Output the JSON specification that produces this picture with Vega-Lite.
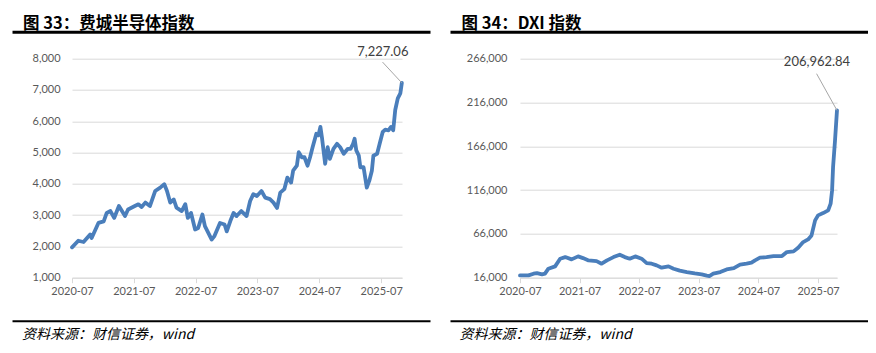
{
  "$schema": "https://vega.github.io/schema/vega-lite/v6.json",
  "background": "white",
  "padding": {"left": 12, "top": 15.7, "right": 0, "bottom": 0},
  "config": {"view": {"stroke": null}, "font": "Lato"},
  "datasets": {
    "sox": [
      {"date": "2020/07/01", "value": 1970}, {"date": "2020/08/07", "value": 2180}, {"date": "2020/09/07", "value": 2140},
      {"date": "2020/10/16", "value": 2380}, {"date": "2020/10/25", "value": 2270}, {"date": "2020/12/04", "value": 2750},
      {"date": "2021/01/04", "value": 2800}, {"date": "2021/01/22", "value": 3070}, {"date": "2021/02/13", "value": 3130},
      {"date": "2021/03/07", "value": 2910}, {"date": "2021/04/04", "value": 3290}, {"date": "2021/05/10", "value": 2970},
      {"date": "2021/05/28", "value": 3180}, {"date": "2021/07/07", "value": 3290}, {"date": "2021/07/28", "value": 3345},
      {"date": "2021/08/16", "value": 3260}, {"date": "2021/09/07", "value": 3400}, {"date": "2021/10/04", "value": 3290},
      {"date": "2021/11/04", "value": 3770}, {"date": "2021/12/04", "value": 3880}, {"date": "2021/12/28", "value": 3990},
      {"date": "2022/01/13", "value": 3770}, {"date": "2022/02/01", "value": 3400}, {"date": "2022/02/22", "value": 3500},
      {"date": "2022/03/10", "value": 3240}, {"date": "2022/04/10", "value": 3130}, {"date": "2022/05/01", "value": 3350},
      {"date": "2022/05/16", "value": 2910}, {"date": "2022/06/04", "value": 3070}, {"date": "2022/06/28", "value": 2540},
      {"date": "2022/07/16", "value": 2590}, {"date": "2022/08/10", "value": 3020}, {"date": "2022/08/25", "value": 2650},
      {"date": "2022/10/04", "value": 2220}, {"date": "2022/10/19", "value": 2320}, {"date": "2022/11/22", "value": 2750},
      {"date": "2022/12/19", "value": 2700}, {"date": "2023/01/01", "value": 2480}, {"date": "2023/01/22", "value": 2810},
      {"date": "2023/02/10", "value": 3070}, {"date": "2023/02/28", "value": 2970}, {"date": "2023/03/28", "value": 3130},
      {"date": "2023/04/28", "value": 2970}, {"date": "2023/05/19", "value": 3450}, {"date": "2023/06/07", "value": 3670},
      {"date": "2023/06/28", "value": 3610}, {"date": "2023/07/25", "value": 3770}, {"date": "2023/08/16", "value": 3560},
      {"date": "2023/09/13", "value": 3510}, {"date": "2023/10/04", "value": 3400}, {"date": "2023/10/25", "value": 3230},
      {"date": "2023/11/13", "value": 3720}, {"date": "2023/12/07", "value": 3830}, {"date": "2023/12/25", "value": 4200},
      {"date": "2024/01/16", "value": 4040}, {"date": "2024/01/28", "value": 4420}, {"date": "2024/02/19", "value": 4580},
      {"date": "2024/03/01", "value": 5010}, {"date": "2024/03/19", "value": 4850}, {"date": "2024/04/04", "value": 4850},
      {"date": "2024/04/22", "value": 4580}, {"date": "2024/05/07", "value": 4850}, {"date": "2024/05/22", "value": 5170},
      {"date": "2024/06/13", "value": 5600}, {"date": "2024/06/25", "value": 5550}, {"date": "2024/07/07", "value": 5820},
      {"date": "2024/07/16", "value": 5490}, {"date": "2024/08/04", "value": 4640}, {"date": "2024/08/19", "value": 5170},
      {"date": "2024/09/01", "value": 4800}, {"date": "2024/09/22", "value": 5120}, {"date": "2024/10/13", "value": 5280},
      {"date": "2024/11/01", "value": 5170}, {"date": "2024/11/22", "value": 4960}, {"date": "2024/12/16", "value": 5120},
      {"date": "2025/01/01", "value": 5120}, {"date": "2025/01/16", "value": 5280}, {"date": "2025/01/25", "value": 5440},
      {"date": "2025/02/04", "value": 5070}, {"date": "2025/02/19", "value": 4900}, {"date": "2025/02/28", "value": 4530},
      {"date": "2025/03/19", "value": 4530}, {"date": "2025/04/07", "value": 3880}, {"date": "2025/04/22", "value": 4100},
      {"date": "2025/05/07", "value": 4420}, {"date": "2025/05/16", "value": 4900}, {"date": "2025/06/07", "value": 4960},
      {"date": "2025/06/22", "value": 5280}, {"date": "2025/07/10", "value": 5660}, {"date": "2025/07/25", "value": 5730},
      {"date": "2025/08/13", "value": 5710}, {"date": "2025/08/28", "value": 5820}, {"date": "2025/09/10", "value": 5710},
      {"date": "2025/09/22", "value": 6360}, {"date": "2025/10/07", "value": 6730}, {"date": "2025/10/22", "value": 6890},
      {"date": "2025/10/31", "value": 7227.06}
    ],
    "dxi": [
      {"date": "2020/07/01", "value": 18600}, {"date": "2020/08/22", "value": 18600}, {"date": "2020/09/22", "value": 20570},
      {"date": "2020/10/13", "value": 21250}, {"date": "2020/11/13", "value": 19770}, {"date": "2020/12/01", "value": 20570},
      {"date": "2020/12/22", "value": 26270}, {"date": "2021/02/01", "value": 28900}, {"date": "2021/03/04", "value": 37690},
      {"date": "2021/04/04", "value": 39520}, {"date": "2021/05/13", "value": 36900}, {"date": "2021/06/22", "value": 40320},
      {"date": "2021/07/22", "value": 38380}, {"date": "2021/08/25", "value": 35750}, {"date": "2021/10/13", "value": 34950},
      {"date": "2021/11/13", "value": 31980}, {"date": "2021/12/16", "value": 35750}, {"date": "2022/01/25", "value": 39520},
      {"date": "2022/03/04", "value": 42260}, {"date": "2022/04/04", "value": 39520}, {"date": "2022/05/04", "value": 37690},
      {"date": "2022/06/07", "value": 40320}, {"date": "2022/07/16", "value": 37690}, {"date": "2022/08/16", "value": 32670},
      {"date": "2022/09/16", "value": 31980}, {"date": "2022/10/16", "value": 30040}, {"date": "2022/11/16", "value": 27420},
      {"date": "2022/12/28", "value": 28900}, {"date": "2023/01/28", "value": 26270}, {"date": "2023/03/07", "value": 24000},
      {"date": "2023/04/19", "value": 22390}, {"date": "2023/06/07", "value": 20800}, {"date": "2023/07/19", "value": 19800},
      {"date": "2023/08/19", "value": 18400}, {"date": "2023/09/04", "value": 17800}, {"date": "2023/09/28", "value": 20570},
      {"date": "2023/11/10", "value": 22390}, {"date": "2023/12/19", "value": 25480}, {"date": "2024/02/01", "value": 26960},
      {"date": "2024/03/10", "value": 30840}, {"date": "2024/04/19", "value": 31980}, {"date": "2024/05/19", "value": 33120},
      {"date": "2024/06/10", "value": 35750}, {"date": "2024/07/10", "value": 38830}, {"date": "2024/08/19", "value": 39520},
      {"date": "2024/10/01", "value": 40660}, {"date": "2024/11/22", "value": 40660}, {"date": "2024/12/22", "value": 45230},
      {"date": "2025/02/01", "value": 46020}, {"date": "2025/03/01", "value": 50250}, {"date": "2025/04/01", "value": 56640},
      {"date": "2025/05/01", "value": 59720}, {"date": "2025/05/22", "value": 64290}, {"date": "2025/06/13", "value": 81410},
      {"date": "2025/07/01", "value": 87120}, {"date": "2025/08/01", "value": 89750}, {"date": "2025/09/01", "value": 92830},
      {"date": "2025/09/16", "value": 100480}, {"date": "2025/09/25", "value": 115660}, {"date": "2025/10/01", "value": 142270},
      {"date": "2025/10/13", "value": 172740}, {"date": "2025/10/25", "value": 206962.84}
    ]
  },
  "spacing": 13,
  "vconcat": [
    {
      "spacing": 19,
      "hconcat": [
        {
          "width": 358, "height": 1,
          "data": {"values": [{}]},
          "title": {"text": "图 33：费城半导体指数", "anchor": "start", "font": "Noto Sans CJK SC", "fontSize": 16.5, "fontWeight": "bold", "color": "black", "offset": -2, "dx": 11},
          "mark": {"type": "point", "opacity": 0, "size": 1},
          "encoding": {
            "x": {"datum": 0, "type": "quantitative", "scale": {"domain": [0, 1], "range": [0, 418]},
              "axis": {"orient": "bottom", "position": -60, "domainColor": "black", "domainWidth": 3, "domainCap": "butt", "labels": false, "ticks": false, "grid": false, "title": null}}
          }
        },
        {
          "width": 418, "height": 1,
          "data": {"values": [{}]},
          "title": {"text": "图 34：DXI 指数", "anchor": "start", "font": "Noto Sans CJK SC", "fontSize": 16.5, "fontWeight": "bold", "color": "black", "offset": -2, "dx": 12},
          "mark": {"type": "point", "opacity": 0, "size": 1},
          "encoding": {
            "x": {"datum": 0, "type": "quantitative", "scale": {"domain": [0, 1]},
              "axis": {"orient": "bottom", "domainColor": "black", "domainWidth": 3, "domainCap": "butt", "labels": false, "ticks": false, "grid": false, "title": null}}
          }
        }
      ]
    },
    {
      "spacing": 40,
      "hconcat": [
        {
          "width": 330, "height": 219,
          "data": {"name": "sox"},
          "encoding": {
            "x": {"field": "date", "type": "temporal",
              "scale": {"domain": [{"year": 2020, "month": 7, "date": 1}, {"year": 2025, "month": 11, "date": 1}]},
              "axis": {"title": null, "format": "%Y-%m", "grid": false, "labelOverlap": false, "labelFlush": false,
                "values": [{"year": 2020, "month": 7, "date": 1}, {"year": 2021, "month": 7, "date": 1}, {"year": 2022, "month": 7, "date": 1}, {"year": 2023, "month": 7, "date": 1}, {"year": 2024, "month": 7, "date": 1}, {"year": 2025, "month": 7, "date": 1}],
                "domainColor": "#d9d9d9", "tickColor": "#d9d9d9", "tickSize": 5, "labelPadding": 3,
                "labelFont": "Lato", "labelFontSize": 11, "labelColor": "#595959"}},
            "y": {"field": "value", "type": "quantitative",
              "scale": {"domain": [1000, 8000]},
              "axis": {"title": null, "format": ",.0f", "values": [1000, 2000, 3000, 4000, 5000, 6000, 7000, 8000],
                "grid": true, "gridColor": "#d9d9d9", "domain": false, "ticks": false, "labelPadding": 12, "minExtent": 60,
                "labelFont": "Lato", "labelFontSize": 11, "labelColor": "#595959"}}
          },
          "layer": [
            {"mark": {"type": "line", "color": "#4a7ebb", "strokeWidth": 3.8, "strokeJoin": "round", "strokeCap": "round"}},
            {"transform": [{"filter": "datum.value == 7227.06"}],
              "mark": {"type": "rule", "color": "#a6a6a6", "strokeWidth": 1},
              "encoding": {"x2": {"datum": {"year": 2025, "month": 7, "date": 9}}, "y2": {"datum": 7892}}},
            {"transform": [{"filter": "datum.value == 7227.06"}],
              "mark": {"type": "text", "dx": -19, "dy": -31, "fontSize": 13, "color": "#404040", "font": "Lato"},
              "encoding": {"text": {"field": "value", "type": "quantitative", "format": ",.2f"}}}
          ]
        },
        {
          "width": 317, "height": 219,
          "data": {"name": "dxi"},
          "encoding": {
            "x": {"field": "date", "type": "temporal",
              "scale": {"domain": [{"year": 2020, "month": 7, "date": 1}, {"year": 2025, "month": 10, "date": 25}]},
              "axis": {"title": null, "format": "%Y-%m", "grid": false, "labelOverlap": false, "labelFlush": false,
                "values": [{"year": 2020, "month": 7, "date": 1}, {"year": 2021, "month": 7, "date": 1}, {"year": 2022, "month": 7, "date": 1}, {"year": 2023, "month": 7, "date": 1}, {"year": 2024, "month": 7, "date": 1}, {"year": 2025, "month": 7, "date": 1}],
                "domainColor": "#d9d9d9", "tickColor": "#d9d9d9", "tickSize": 5, "labelPadding": 3,
                "labelFont": "Lato", "labelFontSize": 11, "labelColor": "#595959"}},
            "y": {"field": "value", "type": "quantitative",
              "scale": {"domain": [16000, 266000]},
              "axis": {"title": null, "format": ",.0f", "values": [16000, 66000, 116000, 166000, 216000, 266000],
                "grid": true, "gridColor": "#d9d9d9", "domain": false, "ticks": false, "labelPadding": 13, "minExtent": 71,
                "labelFont": "Lato", "labelFontSize": 11, "labelColor": "#595959"}}
          },
          "layer": [
            {"mark": {"type": "line", "color": "#4a7ebb", "strokeWidth": 3.8, "strokeJoin": "round", "strokeCap": "round"}},
            {"transform": [{"filter": "datum.value == 206962.84"}],
              "mark": {"type": "rule", "color": "#a6a6a6", "strokeWidth": 1},
              "encoding": {"x2": {"datum": {"year": 2025, "month": 6, "date": 22}}, "y2": {"datum": 248886}}},
            {"transform": [{"filter": "datum.value == 206962.84"}],
              "mark": {"type": "text", "dx": -20, "dy": -48, "fontSize": 13, "color": "#404040", "font": "Lato"},
              "encoding": {"text": {"field": "value", "type": "quantitative", "format": ",.2f"}}}
          ]
        }
      ]
    },
    {
      "spacing": 19,
      "hconcat": [
        {
          "width": 358, "height": 11,
          "data": {"values": [{}]},
          "title": {"text": "资料来源：财信证券，wind", "orient": "bottom", "anchor": "start", "font": "Noto Sans CJK SC", "fontSize": 14, "fontWeight": "normal", "fontStyle": "italic", "color": "black", "offset": 7, "dx": 10},
          "mark": {"type": "point", "opacity": 0, "size": 1},
          "encoding": {
            "x": {"datum": 0, "type": "quantitative", "scale": {"domain": [0, 1], "range": [0, 418]},
              "axis": {"orient": "bottom", "position": -60, "domainColor": "black", "domainWidth": 2, "domainCap": "butt", "labels": false, "ticks": false, "grid": false, "title": null}}
          }
        },
        {
          "width": 418, "height": 11,
          "data": {"values": [{}]},
          "title": {"text": "资料来源：财信证券，wind", "orient": "bottom", "anchor": "start", "font": "Noto Sans CJK SC", "fontSize": 14, "fontWeight": "normal", "fontStyle": "italic", "color": "black", "offset": 7, "dx": 10},
          "mark": {"type": "point", "opacity": 0, "size": 1},
          "encoding": {
            "x": {"datum": 0, "type": "quantitative", "scale": {"domain": [0, 1]},
              "axis": {"orient": "bottom", "domainColor": "black", "domainWidth": 2, "domainCap": "butt", "labels": false, "ticks": false, "grid": false, "title": null}}
          }
        }
      ]
    }
  ]
}
